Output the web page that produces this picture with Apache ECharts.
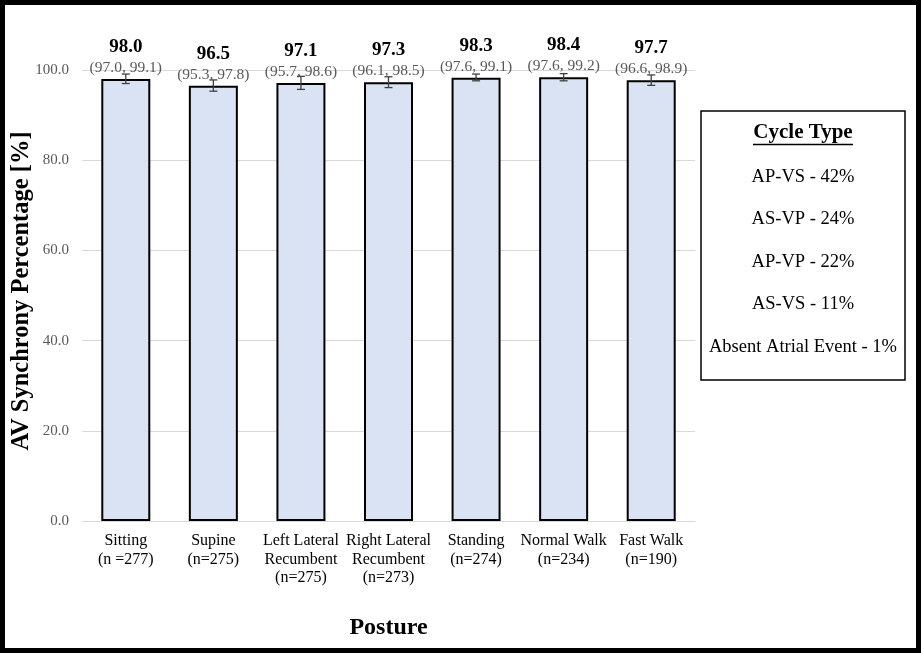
<!DOCTYPE html>
<html><head><meta charset="utf-8">
<script src="https://cdn.jsdelivr.net/npm/echarts@6/dist/echarts.min.js"></script>
<style>html,body{margin:0;padding:0;background:#fff}#c{width:921px;height:653px}</style>
</head><body><div id="c"></div>
<script>
var categories = ['Sitting\n(n =277)', 'Supine\n(n=275)', 'Left Lateral\nRecumbent\n(n=275)', 'Right Lateral\nRecumbent\n(n=273)', 'Standing\n(n=274)', 'Normal Walk\n(n=234)', 'Fast Walk\n(n=190)'];
var values = [98.0, 96.5, 97.1, 97.3, 98.3, 98.4, 97.7];
var ciLow = [97.0, 95.3, 95.7, 96.1, 97.6, 97.6, 96.6];
var ciHigh = [99.1, 97.8, 98.6, 98.5, 99.1, 99.2, 98.9];
var yTicks = [0, 20, 40, 60, 80, 100];
var yAxisTitle = 'AV Synchrony Percentage [%]';
var legendTitle = 'Cycle Type';
var legendItems = ['AP-VS - 42%', 'AS-VP - 24%', 'AP-VP - 22%', 'AS-VS - 11%', 'Absent Atrial Event - 1%'];

var F = 'Liberation Serif, Times New Roman, serif';
var chart = echarts.init(document.getElementById('c'));

var legendGraphics = [{
  type: 'text', x: 22, y: 291, rotation: Math.PI / 2,
  style: {text: yAxisTitle, font: 'bold 24.5px ' + F, fill: '#000', align: 'center', verticalAlign: 'middle'}
}, {
  type: 'rect', shape: {x: 701, y: 111, width: 204, height: 269},
  style: {fill: '#fff', stroke: '#000', lineWidth: 1.5}
}, {
  type: 'text', x: 803, y: 133,
  style: {text: legendTitle, font: 'bold 21px ' + F, fill: '#000', align: 'center', verticalAlign: 'middle'}
}, {
  type: 'line', shape: {x1: 753, y1: 144.5, x2: 853, y2: 144.5}, style: {stroke: '#000', lineWidth: 1.3}
}];
legendItems.forEach(function (t, i) {
  legendGraphics.push({
    type: 'text', x: 803, y: 177 + i * 42.5,
    style: {text: t, font: '18.5px ' + F, fill: '#000', align: 'center', verticalAlign: 'middle'}
  });
});
legendGraphics.push({
  type: 'rect', shape: {x: 2.5, y: 2.5, width: 916, height: 648},
  style: {fill: 'none', stroke: '#000', lineWidth: 5}, z: 100
});

chart.setOption({
  animation: false,
  backgroundColor: '#fff',
  grid: {left: 82, right: 226, top: 70, bottom: 132, containLabel: false, outerBoundsMode: 'none'},
  xAxis: {
    type: 'category', data: categories,
    name: 'Posture', nameLocation: 'middle', nameGap: 95,
    nameTextStyle: {fontFamily: F, fontWeight: 'bold', fontSize: 24, color: '#000'},
    axisLine: {show: true, lineStyle: {color: '#d9d9d9', width: 1}},
    axisTick: {show: false},
    axisLabel: {fontFamily: F, fontSize: 16, color: '#000', lineHeight: 18.5, margin: 11, interval: 0}
  },
  yAxis: {
    type: 'value', min: 0, max: 100, interval: 20,
    axisLine: {show: false}, axisTick: {show: false},
    splitLine: {lineStyle: {color: '#d9d9d9', width: 1}},
    axisLabel: {fontFamily: F, fontSize: 15, color: '#595959', margin: 13,
      formatter: function (v) { return yTicks.indexOf(v) >= 0 ? v.toFixed(1) : ''; }}
  },
  series: [{
    type: 'bar', data: values, barWidth: 49,
    itemStyle: {color: '#dae3f3', borderColor: '#000', borderWidth: 2},
    label: {
      show: true, position: 'top', distance: 1,
      formatter: function (p) {
        var i = p.dataIndex;
        return '{v|' + values[i].toFixed(1) + '}\n{ci|(' + ciLow[i].toFixed(1) + ', ' + ciHigh[i].toFixed(1) + ')}';
      },
      rich: {
        v: {fontFamily: F, fontWeight: 'bold', fontSize: 19, color: '#000', lineHeight: 22},
        ci: {fontFamily: F, fontSize: 15.5, color: '#595959', lineHeight: 20}
      }
    }
  }, {
    type: 'custom', z: 10,
    data: values.map(function (v, i) { return [i, ciLow[i], ciHigh[i]]; }),
    renderItem: function (params, api) {
      var lo = api.coord([api.value(0), api.value(1)]);
      var hi = api.coord([api.value(0), api.value(2)]);
      var x = lo[0], w = 4;
      var st = {stroke: '#404040', lineWidth: 1.3};
      return {type: 'group', children: [
        {type: 'line', shape: {x1: x, y1: lo[1], x2: x, y2: hi[1]}, style: st},
        {type: 'line', shape: {x1: x - w, y1: lo[1], x2: x + w, y2: lo[1]}, style: st},
        {type: 'line', shape: {x1: x - w, y1: hi[1], x2: x + w, y2: hi[1]}, style: st}
      ]};
    }
  }],
  graphic: legendGraphics
});
</script></body></html>
